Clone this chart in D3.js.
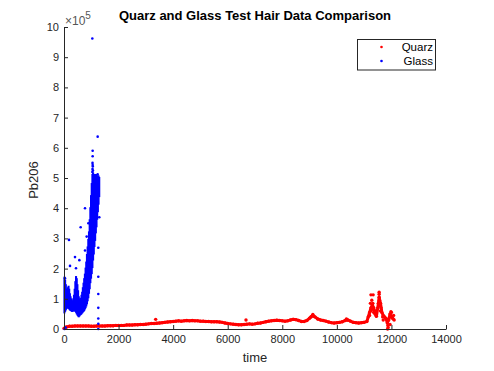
<!DOCTYPE html>
<html>
<head>
<meta charset="utf-8">
<script src="https://cdn.jsdelivr.net/npm/d3@7/dist/d3.min.js"></script>
<style>
  html, body { margin: 0; padding: 0; background: #fff; }
  svg { display: block; font-family: "Liberation Sans", Arial, Helvetica, sans-serif; }
</style>
</head>
<body>
<svg id="chart" width="494" height="371"></svg>
<script>
// ---- Data (Pb206 in units of 1e5) ----
const title = "Quarz and Glass Test Hair Data Comparison";
const xLabel = "time";
const yLabel = "Pb206";
const seriesNames = ["Quarz", "Glass"];
const xTicks = [0, 2000, 4000, 6000, 8000, 10000, 12000, 14000];
const yTicks = [0, 1, 2, 3, 4, 5, 6, 7, 8, 9, 10];

// Quarz main trace: [time, Pb206 (x1e5)]
const quarzPoints = [
  [0,0.02],[50,0.05],[100,0.07],[200,0.09],[300,0.09],[400,0.10],[500,0.10],[600,0.10],[700,0.10],[800,0.10],
  [900,0.10],[1000,0.09],[1100,0.09],[1200,0.10],[1300,0.10],[1400,0.10],[1500,0.10],[1600,0.11],[1700,0.11],
  [1800,0.11],[1900,0.12],[2000,0.12],[2100,0.12],[2200,0.12],[2300,0.13],[2400,0.13],[2500,0.13],[2600,0.14],
  [2700,0.14],[2800,0.15],[2900,0.15],[3000,0.16],[3100,0.17],[3200,0.18],[3300,0.18],[3400,0.19],[3500,0.20],
  [3600,0.21],[3700,0.22],[3800,0.23],[3900,0.24],[4000,0.25],[4100,0.26],[4200,0.27],[4300,0.26],[4400,0.27],
  [4500,0.28],[4600,0.27],[4700,0.28],[4800,0.27],[4900,0.27],[5000,0.26],[5100,0.26],[5200,0.25],[5300,0.25],
  [5400,0.24],[5500,0.24],[5600,0.24],[5700,0.23],[5800,0.22],[5900,0.20],[6000,0.18],[6100,0.17],[6200,0.16],
  [6300,0.15],[6400,0.14],[6500,0.14],[6600,0.15],[6700,0.16],[6800,0.17],[6900,0.16],[7000,0.17],[7100,0.19],
  [7200,0.20],[7300,0.22],[7400,0.24],[7500,0.26],[7600,0.27],[7700,0.28],[7800,0.29],[7900,0.28],[8000,0.27],
  [8100,0.26],[8200,0.27],[8300,0.30],[8400,0.32],[8500,0.31],[8600,0.28],[8700,0.25],[8800,0.25],[8900,0.28],
  [9000,0.36],[9050,0.40],[9100,0.44],[9150,0.43],[9200,0.40],[9300,0.33],[9400,0.30],[9500,0.28],[9600,0.26],
  [9700,0.23],[9800,0.21],[9900,0.20],[10000,0.21],[10100,0.22],[10200,0.24],[10300,0.28],[10400,0.30],
  [10500,0.26],[10600,0.22],[10700,0.21],[10800,0.20],[10900,0.21],[11000,0.22],[11100,0.25],[11150,0.40],
  [11200,0.55],[11250,0.70],[11300,0.80],[11350,0.70],[11400,0.50],[11450,0.42],[11500,0.70],[11550,1.05],
  [11600,0.85],[11650,0.55],[11700,0.45],[11750,0.40],[11800,0.35],[11850,0.20],[11900,0.30],[11950,0.50],
  [12000,0.40],[12050,0.35],[12100,0.30]
];

// Quarz scattered points: [time, Pb206 (x1e5)]
const quarzScatter = [
  [3360,0.32],[6670,0.30],[11200,0.45],[11250,0.60],[11280,0.95],[11250,1.13],[11330,1.13],[11320,0.85],
  [11300,0.65],[11550,1.22],[11550,1.15],[11560,0.95],[11570,0.80],[11620,0.70],[11520,0.85],[11860,0.00],
  [11880,0.05],[11870,0.12],[11980,0.57],[12000,0.55],[11420,0.60],[11680,0.40],[12080,0.45],[11950,0.15],
  [9120,0.48],[10350,0.33],[11230,0.85],[11600,0.60],[11700,0.30],[11350,0.55]
];

// Glass dense region: [time, low, high] (x1e5)
const glassBand = [
  [0,0.55,1.70],[25,0.60,1.60],[50,0.65,1.45],[75,0.70,1.30],[100,0.72,1.25],[125,0.72,1.35],[150,0.70,1.40],
  [175,0.68,1.30],[200,0.65,1.15],[225,0.63,1.05],[250,0.62,0.98],[275,0.60,0.92],[300,0.60,0.90],[325,0.62,0.98],
  [350,0.63,1.10],[375,0.62,1.30],[400,0.60,1.55],[425,0.57,1.72],[450,0.52,1.65],[475,0.48,1.45],[500,0.45,1.25],
  [525,0.42,1.05],[550,0.45,0.98],[575,0.48,0.95],[600,0.50,1.00],[625,0.52,1.10],[650,0.55,1.20],[675,0.58,1.35],
  [700,0.60,1.50],[725,0.63,1.65],[750,0.68,1.80],[775,0.72,2.00],[800,0.78,2.20],[825,0.85,2.45],[850,0.95,2.70],
  [875,1.05,2.95],[900,1.20,3.20],[925,1.35,3.60],[950,1.55,4.00],[975,1.70,4.40],[1000,1.85,4.80],[1025,2.05,5.10],
  [1050,2.30,5.15],[1075,2.50,5.10],[1100,2.75,5.05],[1125,2.95,5.10],[1150,3.20,5.05],[1175,3.40,5.10],
  [1200,3.65,5.00],[1225,3.90,5.05],[1250,4.15,5.05],[1275,4.40,5.00]
];

// Glass scattered points: [time, Pb206 (x1e5)]
const glassPoints = [
  [1038,9.62],[1234,6.37],[1050,5.90],[1050,5.72],[1045,5.50],[1050,5.43],[1055,5.38],[1045,5.30],[1060,5.25],
  [1040,5.20],[1234,5.12],[770,4.00],[892,3.50],[611,3.37],[831,3.06],[183,2.95],[770,2.60],[403,2.38],
  [220,2.09],[562,2.28],[440,2.01],[1257,2.69],[1257,1.73],[1257,1.16],[1257,0.70],[1257,0.35],[1257,0.17],
  [1257,0.00],[1294,3.70],[37,1.68],[20,0.00],[60,0.05]
];

// ---- Layout ----
const svg = d3.select("#chart");
const plotLeft = 64, plotRight = 446, plotTop = 27, plotBottom = 329;
const x = d3.scaleLinear().domain([0, 14000]).range([plotLeft, plotRight]);
const y = d3.scaleLinear().domain([0, 10]).range([plotBottom, plotTop]);
const axisColor = "#262626";
const red = "#ff0000", blue = "#0000ff";

svg.append("rect").attr("width", 494).attr("height", 371).attr("fill", "#fff");

// Quarz
svg.append("path").datum(quarzPoints)
  .attr("d", d3.line().x(d => x(d[0])).y(d => y(d[1])))
  .attr("fill", "none").attr("stroke", red).attr("stroke-width", 3).attr("stroke-linejoin", "round");
svg.append("g").selectAll("circle").data(quarzPoints.concat(quarzScatter)).join("circle")
  .attr("cx", d => x(d[0])).attr("cy", d => y(d[1])).attr("r", 1.7).attr("fill", red);

// Glass band
svg.append("g").selectAll("rect").data(glassBand).join("rect")
  .attr("x", d => x(d[0]) - 0.6)
  .attr("width", x(25) - x(0) + 1.4)
  .attr("y", d => y(d[2]) - 1)
  .attr("height", d => y(d[1]) - y(d[2]) + 2)
  .attr("fill", blue);

svg.append("g").selectAll("circle").data(glassPoints).join("circle")
  .attr("cx", d => x(d[0])).attr("cy", d => y(d[1])).attr("r", 1.3).attr("fill", blue);

// Axes
const xAxis = d3.axisBottom(x).tickValues(xTicks).tickFormat(d3.format("d")).tickSize(-4).tickPadding(6).tickSizeOuter(0);
const yAxis = d3.axisLeft(y).tickValues(yTicks).tickFormat(d3.format("d")).tickSize(-4).tickPadding(5).tickSizeOuter(0);

const gx = svg.append("g").attr("transform", `translate(0,${plotBottom})`).call(xAxis);
const gy = svg.append("g").attr("transform", `translate(${plotLeft},0)`).call(yAxis);
[gx, gy].forEach(g => {
  g.select(".domain").attr("stroke", axisColor).attr("stroke-width", 1);
  g.selectAll(".tick line").attr("stroke", axisColor).attr("stroke-width", 1);
  g.selectAll(".tick text").attr("fill", axisColor).attr("font-size", 11)
    .attr("font-family", "Liberation Sans, Arial, sans-serif");
});

// Exponent label
const expo = svg.append("text").attr("x", 65).attr("y", 25).attr("fill", "#555")
  .attr("font-size", 12);
expo.append("tspan").text("\u00d710");
expo.append("tspan").attr("dy", -6).attr("font-size", 10).text("5");

// Title
svg.append("text").attr("x", 255).attr("y", 20).attr("text-anchor", "middle")
  .attr("font-size", 13).attr("font-weight", "bold").attr("fill", "#000").text(title);

// Axis labels
svg.append("text").attr("x", 255).attr("y", 362).attr("text-anchor", "middle")
  .attr("font-size", 13).attr("fill", axisColor).text(xLabel);
svg.append("text").attr("transform", "translate(38,180) rotate(-90)").attr("text-anchor", "middle")
  .attr("font-size", 13).attr("fill", axisColor).text(yLabel);

// Legend
const lg = svg.append("g");
lg.append("rect").attr("x", 357.5).attr("y", 39.5).attr("width", 78).attr("height", 30.5)
  .attr("fill", "#fff").attr("stroke", axisColor).attr("stroke-width", 1);
const legendColors = [red, blue];
seriesNames.forEach((name, i) => {
  const cy = 47 + i * 14;
  lg.append("circle").attr("cx", 381.5).attr("cy", cy).attr("r", 1.3).attr("fill", legendColors[i]);
  lg.append("text").attr("x", 433).attr("y", cy + 4).attr("text-anchor", "end")
    .attr("font-size", 11.5).attr("fill", "#000").text(name);
});
</script>
</body>
</html>
